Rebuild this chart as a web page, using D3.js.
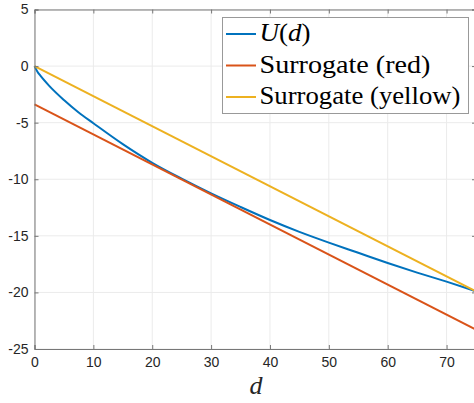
<!DOCTYPE html>
<html>
<head>
<meta charset="utf-8">
<script src="https://cdn.jsdelivr.net/npm/d3@7"></script>
<style>
  body { margin: 0; background: #fff; }
  svg { display: block; }
</style>
</head>
<body>
<svg width="474" height="403"></svg>
<script>
// values
var dVals = [0, 0.5, 1, 2.5, 5, 7.5, 10, 15, 20, 25, 30, 35, 40, 45, 50, 55, 60, 65, 70, 75]
var uVals = [0, -0.5, -0.85, -1.75, -3.0, -4.1, -5.05, -6.9, -8.55, -9.95, -11.25, -12.45, -13.6, -14.65, -15.6, -16.5, -17.4, -18.25, -19.05, -19.9]
var redD = [0, 75]
var redVals = [-3.39, -23.3]
var yellowD = [0, 75]
var yellowVals = [0, -19.9]
var xTicks = [0, 10, 20, 30, 40, 50, 60, 70]
var yTicks = [5, 0, -5, -10, -15, -20, -25]
var legendNames = ['U(d)', 'Surrogate (red)', 'Surrogate (yellow)']
var legendWidths = [51, 171, 201]
var colors = ['#0072BD', '#D95319', '#EDB120']

var svg = d3.select('svg')
var x = d3.scaleLinear().domain([0, 75]).range([34.5, 476])
var y = d3.scaleLinear().domain([-25, 5]).range([349, 9.5])

// grid
var grid = svg.append('g')
grid.selectAll('.gx').data(xTicks).enter().append('line')
    .attr('x1', d => x(d)).attr('x2', d => x(d))
    .attr('y1', y(5)).attr('y2', y(-25))
    .attr('stroke', '#ebebeb').attr('stroke-width', 1)
grid.selectAll('.gy').data(yTicks).enter().append('line')
    .attr('x1', x(0)).attr('x2', x(75))
    .attr('y1', d => y(d)).attr('y2', d => y(d))
    .attr('stroke', '#ebebeb').attr('stroke-width', 1)

// lines
var line = d3.line().x(d => x(d[0])).y(d => y(d[1])).curve(d3.curveMonotoneX)
var series = [
    d3.zip(dVals, uVals),
    d3.zip(redD, redVals),
    d3.zip(yellowD, yellowVals)
]
series.forEach(function(s, i) {
    svg.append('path')
	.attr('d', line(s))
	.attr('fill', 'none')
	.attr('stroke', colors[i])
	.attr('stroke-width', 2)
	.attr('stroke-linejoin', 'round')
})

// axes (MATLAB style: ticks inward, box on)
var axCol = '#777'
var ax = svg.append('g')
ax.append('g').attr('transform', 'translate(0,' + y(-25) + ')')
    .call(d3.axisBottom(x).tickValues(xTicks).tickSize(-4).tickPadding(8))
ax.append('g').attr('transform', 'translate(0,' + y(5) + ')')
    .call(d3.axisTop(x).tickValues(xTicks).tickSize(-4).tickFormat(''))
ax.append('g').attr('transform', 'translate(' + x(0) + ',0)')
    .call(d3.axisLeft(y).tickValues(yTicks).tickSize(-4).tickPadding(6)
	  .tickFormat(d => d < 0 ? '-' + Math.abs(d) : d))
ax.append('g').attr('transform', 'translate(' + x(75) + ',0)')
    .call(d3.axisRight(y).tickValues(yTicks).tickSize(-4).tickFormat(''))
ax.selectAll('path.domain').attr('stroke', axCol)
ax.selectAll('.tick line').attr('stroke', axCol)
ax.selectAll('.tick text')
    .attr('fill', '#262626')
    .style('font-family', 'Liberation Sans, Arial, sans-serif')
    .style('font-size', '14px')

// x label
svg.append('text')
    .attr('x', 256).attr('y', 394)
    .attr('text-anchor', 'middle')
    .style('font-family', 'Liberation Serif, serif')
    .style('font-style', 'italic')
    .style('font-size', '26px')
    .attr('fill', '#262626')
    .text('d')

// legend
var lg = svg.append('g')
lg.append('rect')
    .attr('x', 222.5).attr('y', 17.5).attr('width', 246).attr('height', 96)
    .attr('fill', '#fff').attr('stroke', '#999').attr('stroke-width', 1)
legendNames.forEach(function(name, i) {
    var cy = 34 + i * 31.5
    lg.append('line')
	.attr('x1', 226).attr('x2', 256)
	.attr('y1', cy).attr('y2', cy)
	.attr('stroke', colors[i]).attr('stroke-width', 2)
    var t = lg.append('text')
	.attr('x', 259.5).attr('y', cy + 7)
	.style('font-family', 'Liberation Serif, serif')
	.style('font-size', '26px')
	.attr('fill', '#000')
	.attr('textLength', legendWidths[i])
	.attr('lengthAdjust', 'spacingAndGlyphs')
    if (i == 0) {
	t.append('tspan').style('font-style', 'italic').text('U')
	t.append('tspan').text('(')
	t.append('tspan').style('font-style', 'italic').text('d')
	t.append('tspan').text(')')
    } else {
	t.text(name)
    }
})
</script>
</body>
</html>
